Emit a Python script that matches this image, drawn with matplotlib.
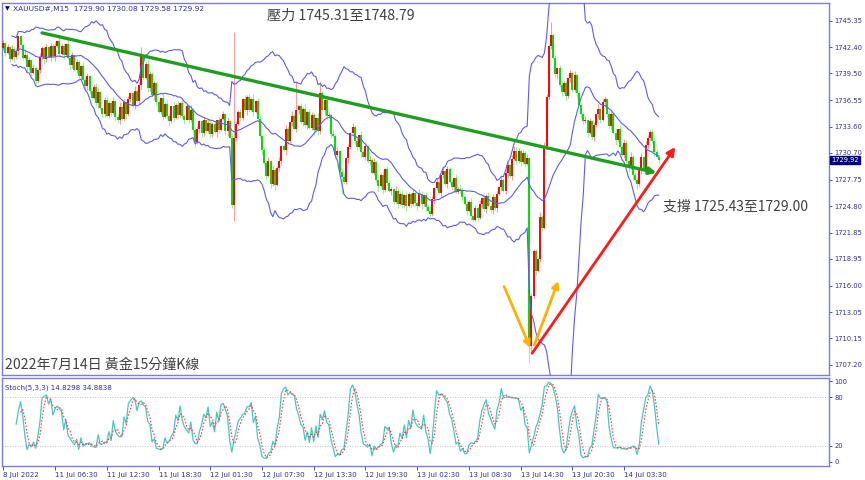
import matplotlib.pyplot as plt
import numpy as np
import pandas as pd

plt.rcParams['font.family'] = ['DejaVu Sans']

# ============ DATA (XAUUSD M15) ============
closes = [
    1742.9, 1741.8, 1742.4, 1741.1, 1742.2, 1741.3, 1742.0, 1743.6, 1742.7, 1741.2,
    1741.6, 1740.2, 1741.0, 1739.6, 1740.1, 1738.7, 1739.9, 1741.3, 1742.3, 1741.1,
    1742.4, 1741.3, 1742.6, 1741.4, 1742.5, 1743.1, 1741.7, 1742.6, 1741.5, 1742.8,
    1741.2, 1740.4, 1741.5, 1739.9, 1740.8, 1739.2, 1740.3, 1738.8, 1738.1, 1739.2,
    1737.6, 1736.8, 1738.0, 1736.2, 1737.4, 1735.7, 1735.0, 1736.6, 1734.8, 1736.2,
    1735.1, 1736.5, 1734.7, 1734.3, 1735.8, 1734.5, 1736.3, 1735.0, 1736.7, 1737.3,
    1736.0, 1737.6, 1736.4, 1738.2, 1741.3, 1739.0, 1740.6, 1737.9, 1739.4, 1737.1,
    1738.5, 1736.3, 1735.2, 1736.8, 1734.7, 1736.1, 1734.8, 1734.2, 1735.9, 1734.6,
    1736.0, 1734.9, 1736.2, 1734.8, 1734.4, 1735.9, 1734.3, 1735.5, 1733.2, 1731.9,
    1733.4, 1734.2, 1732.9, 1734.3, 1733.1, 1734.0, 1732.8, 1733.9, 1733.0, 1734.3,
    1733.2, 1734.5, 1735.0, 1733.1, 1734.2, 1732.4, 1724.9, 1732.4, 1733.9, 1735.2,
    1734.6, 1736.7, 1735.4, 1736.9, 1735.5, 1736.7, 1735.2, 1736.4, 1734.5, 1732.6,
    1731.0, 1729.6, 1728.1, 1729.8, 1727.2, 1728.8, 1727.1, 1729.0, 1729.8, 1731.5,
    1731.0, 1733.4, 1732.0, 1734.1, 1734.8, 1733.3, 1735.5, 1735.9, 1734.1, 1735.6,
    1733.8, 1735.2, 1733.5, 1734.9, 1733.2, 1734.6, 1733.1, 1737.3, 1735.4, 1736.6,
    1734.8, 1734.9, 1732.8, 1732.6, 1730.5, 1730.9, 1728.6, 1728.0, 1727.5, 1730.1,
    1731.3, 1732.9, 1733.6, 1732.0, 1731.4, 1732.7, 1730.8, 1730.2, 1731.5, 1729.8,
    1729.9, 1728.5, 1729.7, 1727.7, 1727.0, 1728.3, 1726.6, 1728.9, 1727.4, 1726.5,
    1726.7, 1725.3, 1726.5, 1725.0, 1726.2, 1724.9, 1726.0, 1724.8, 1726.1, 1725.0,
    1726.3, 1725.1, 1724.8, 1726.2, 1725.0, 1726.0, 1724.7, 1724.3, 1723.9, 1725.6,
    1726.8, 1727.5, 1726.3, 1728.2, 1728.7, 1727.2, 1728.9, 1727.5, 1726.9, 1727.9,
    1726.4, 1726.7, 1726.5, 1725.8, 1725.0, 1724.3, 1725.3, 1723.7, 1723.3, 1724.6,
    1723.5, 1725.0, 1725.7, 1724.5, 1725.9, 1724.8, 1724.4, 1725.8, 1724.6, 1726.2,
    1726.9, 1727.7, 1726.5, 1728.5, 1729.4, 1728.1, 1730.0, 1730.9, 1729.8, 1730.9,
    1729.7, 1730.7, 1729.5, 1730.1, 1709.3, 1714.8, 1719.8, 1717.6, 1718.9, 1723.6,
    1722.4, 1731.5, 1736.9, 1742.6, 1743.8, 1741.2, 1739.4, 1740.1, 1738.2, 1737.4,
    1738.5, 1737.0, 1739.0, 1739.6, 1737.7, 1739.3, 1737.3, 1736.0, 1735.0, 1734.2,
    1734.3, 1732.9, 1734.2, 1732.5, 1733.8, 1735.0, 1735.6, 1734.3, 1736.3, 1736.7,
    1735.0, 1733.7, 1735.0, 1732.9, 1732.1, 1733.3, 1731.4, 1730.5, 1731.8, 1729.8,
    1729.0, 1730.3, 1728.2, 1727.7, 1727.2, 1728.8, 1730.2, 1728.9, 1731.6, 1732.4,
    1733.0, 1732.0, 1730.8, 1730.3, 1729.92,
]
first_open = 1742.3

# wick lengths in tenths of a dollar, one digit per bar
up_wick = (
    "3142523141" "5231421532" "4132514231" "5241321543" "1234521342"
    "2413524132" "1524312543" "2131425314" "2514231524" "3124153241"
    "4231524132" "5142315243" "1325142351" "2431524132" "5143215234"
    "2315241352" "4132514231" "5241325143" "2153241532" "4125314253"
    "1342514231" "5243152413" "2514352413" "1524315243" "1325142315"
    "2431524135" "2413251432" "5142315243" "1532415243" "1524315243"
    "21432"
)
lo_wick = (
    "2413152432" "1534213425" "3142513241" "2531423154" "4213524312"
    "3152413524" "2413521432" "5312413524" "1432513241" "2543124315"
    "3124513241" "4215324132" "5231425134" "1532413524" "2413524315"
    "3241532413" "5213425132" "4132514231" "5324132514" "2341524132"
    "4215324135" "1324152431" "3142513524" "2413524132" "5231452413"
    "3152413524" "1524325143" "2413524315" "3241523142" "4152324135"
    "32413"
)
high_ovr = {8: 1743.8, 64: 1742.4, 107: 1744.1, 136: 1738.6, 147: 1738.6,
            162: 1734.0, 237: 1731.5, 254: 1745.2, 301: 1733.4}
low_ovr = {15: 1738.3, 53: 1734.0, 89: 1731.4, 107: 1723.2, 157: 1726.2,
           198: 1723.6, 218: 1723.0, 244: 1707.4, 294: 1726.7}

x_tick_pos = [0, 24, 48, 72, 96, 120, 144, 168, 192, 216, 240, 264, 288]
x_tick_lab = ['8 Jul 2022', '11 Jul 06:30', '11 Jul 12:30', '11 Jul 18:30',
              '12 Jul 01:30', '12 Jul 07:30', '12 Jul 13:30', '12 Jul 19:30',
              '13 Jul 02:30', '13 Jul 08:30', '13 Jul 14:30', '13 Jul 20:30',
              '14 Jul 03:30']
price_ticks = [1745.35, 1742.40, 1739.50, 1736.55, 1733.60, 1730.70, 1727.75,
               1724.80, 1721.85, 1718.95, 1716.00, 1713.05, 1710.15, 1707.20]
last_price = 1729.92

# drawn lines (bar index, price)
green_line = [(18, 1744.0), (303, 1728.5)]
red_line = [(245.3, 1708.5), (311.7, 1731.35)]
orange_down = [(232.3, 1715.9), (244.4, 1709.1)]
orange_up = [(246.3, 1709.4), (257.4, 1716.5)]

BB_PERIOD, BB_DEV = 20, 2.6
# ===============================================================

n = len(closes)
c = np.array(closes)
o = np.concatenate([[first_open], c[:-1]])
uw = np.array([int(d) for d in up_wick[:n]]) / 10
lw_ = np.array([int(d) for d in lo_wick[:n]]) / 10
h = np.maximum(o, c) + uw
l = np.minimum(o, c) - lw_
for k, v in high_ovr.items():
    h[k] = v
for k, v in low_ovr.items():
    l[k] = v
idx = np.arange(n)

# Bollinger bands
s = pd.Series(c)
mid = s.rolling(BB_PERIOD, min_periods=5).mean()
sd = s.rolling(BB_PERIOD, min_periods=5).std(ddof=0)
upper = mid + BB_DEV * sd
lower = mid - BB_DEV * sd

# Stochastic (5,3,3)
hh = pd.Series(h).rolling(5).max()
ll = pd.Series(l).rolling(5).min()
num = (s - ll).rolling(3).sum()
den = (hh - ll).rolling(3).sum()
k_line = 100 * num / den
d_line = k_line.rolling(3).mean()

W, H = 865, 480
fig = plt.figure(figsize=(W / 100, H / 100), dpi=100)
fig.patch.set_facecolor('white')

frame = '#7b7be6'
tick_col = '#2e2ea0'

ax = fig.add_axes([2 / W, 1 - 375 / H, 827 / W, 372 / H])
ax2 = fig.add_axes([2 / W, 1 - 466 / H, 827 / W, 88 / H])

xlim = (-0.6, 383)
ax.set_xlim(*xlim)
ax.set_ylim(1706.09, 1747.31)

bull = c >= o
wick_cols = np.where(bull, '#ff9a9a', '#9cf09c')
body_cols = np.where(bull, '#ff0000', '#00dd00')
ax.vlines(idx, l, h, colors=wick_cols, lw=0.8, zorder=2)
blo = np.minimum(o, c)
bhi = np.maximum(o, c)
bhi = np.where(bhi - blo < 0.08, blo + 0.08, bhi)
ax.vlines(idx, blo, bhi, colors=body_cols, lw=1.4, zorder=3)

band_col = '#5c5cf0'
for b in (upper, mid, lower):
    ax.plot(idx, b, color=band_col, lw=0.8, zorder=4)

def arrow(a, pts, color, lw, ms):
    a.annotate('', xy=pts[1], xytext=pts[0],
               arrowprops=dict(arrowstyle='-|>', color=color, lw=lw,
                               mutation_scale=ms, shrinkA=0, shrinkB=0),
               zorder=6)

arrow(ax, green_line, '#1e9e1e', 2.4, 10)
arrow(ax, red_line, '#ff1a1a', 2.0, 12)
arrow(ax, orange_down, '#ffb000', 2.0, 10)
arrow(ax, orange_up, '#ffb000', 2.0, 10)

ax.yaxis.tick_right()
ax.set_yticks(price_ticks)
ax.set_yticklabels([f'{p:.2f}' for p in price_ticks], fontsize=4.9, color=tick_col)
ax.tick_params(axis='y', length=2.5, width=0.6, color=tick_col, pad=1.5)
ax.set_xticks([])
for sp in ax.spines.values():
    sp.set_color(frame)
    sp.set_linewidth(1.0)

# current price tag
ax.text(1.003, last_price, f'{last_price:.2f}', transform=ax.get_yaxis_transform(),
        fontsize=4.9, color='white', va='center', ha='left',
        bbox=dict(boxstyle='square,pad=0.2', fc='#000080', ec='#000080'))

# stochastic panel
ax2.set_xlim(*xlim)
ax2.set_ylim(-5, 104)
ax2.plot(idx, k_line, color='#46c8c0', lw=0.9)
ax2.plot(idx, d_line, color='#ff4040', lw=0.8, ls=(0, (1.5, 1.5)))
for lev in (20, 80):
    ax2.axhline(lev, color='#b0b0b0', lw=0.6, ls=(0, (1, 2)))
ax2.yaxis.tick_right()
ax2.set_yticks([0, 20, 80, 100])
ax2.set_yticklabels(['0', '20', '80', '100'], fontsize=4.9, color=tick_col)
ax2.tick_params(axis='y', length=2.5, width=0.6, color=tick_col, pad=1.5)
ax2.set_xticks(x_tick_pos)
ax2.set_xticklabels(x_tick_lab, fontsize=5.1, color=tick_col, ha='left')
ax2.tick_params(axis='x', length=3, width=0.6, color=tick_col, pad=1)
for sp in ax2.spines.values():
    sp.set_color(frame)
    sp.set_linewidth(1.0)
ax2.text(0.004, 0.93, 'Stoch(5,3,3) 14.8298 34.8838', transform=ax2.transAxes,
         fontsize=5.1, color=tick_col, va='top', ha='left')

# header and notes
fig.text(5 / W, 1 - 9 / H, '▼', fontsize=4.5, color='#000080', va='center')
fig.text(13 / W, 1 - 9 / H, 'XAUUSD#,M15  1729.90 1730.08 1729.58 1729.92',
         fontsize=5.4, color=tick_col, va='center')

cjk = ['Noto Sans CJK TC', 'DejaVu Sans']
note_col = '#404040'
fig.text(267 / W, 1 - 16 / H, '壓力 1745.31至1748.79', family=cjk,
         fontsize=10.2, color=note_col, va='center')
fig.text(663 / W, 1 - 207 / H, '支撐 1725.43至1729.00', family=cjk,
         fontsize=10.0, color=note_col, va='center')
fig.text(5 / W, 1 - 365 / H, '2022年7月14日 黃金15分鐘K線', family=cjk,
         fontsize=10.1, color=note_col, va='center')

fig.savefig('out.png', dpi=100)
